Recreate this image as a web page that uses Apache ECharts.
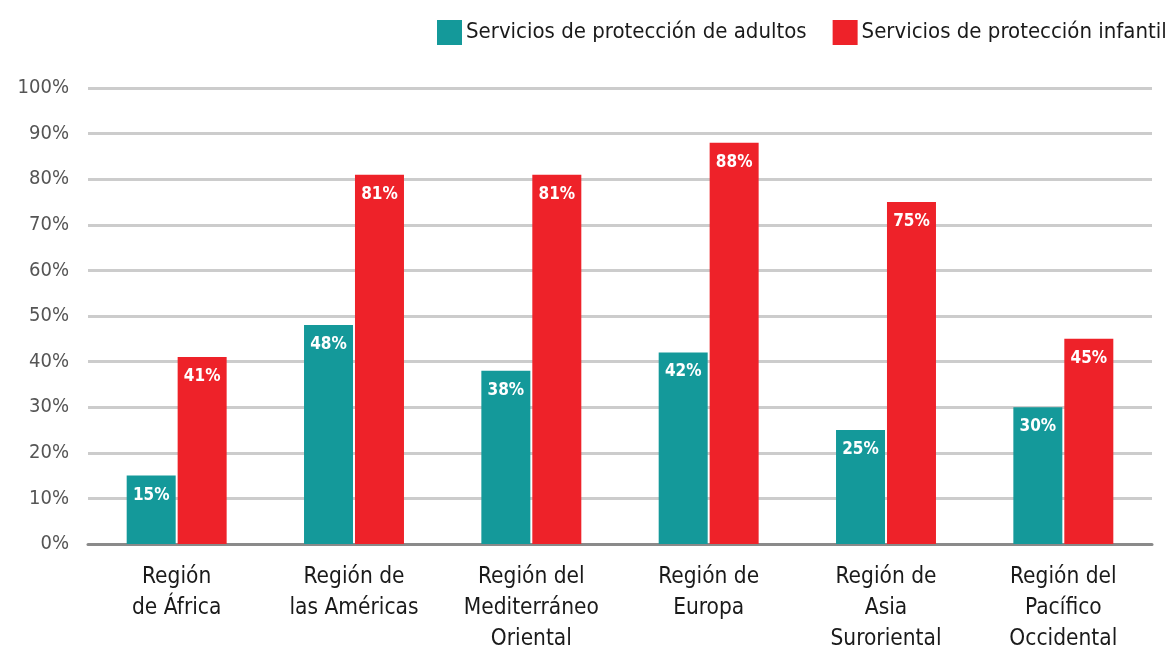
<!DOCTYPE html>
<html><head><meta charset="utf-8">
<script src="https://cdn.jsdelivr.net/npm/echarts@6/dist/echarts.min.js"></script>
<style>html,body{margin:0;padding:0;background:#fff}#c{width:1167px;height:650px}</style>
</head><body><div id="c"></div>
<script>
const categories = ["Región\nde África","Región de\nlas Américas","Región del\nMediterráneo\nOriental","Región de\nEuropa","Región de\nAsia\nSuroriental","Región del\nPacífico\nOccidental"];
const seriesNames = ["Servicios de protección de adultos","Servicios de protección infantil"];
const adultos = [15,48,38,42,25,30];
const infantil = [41,81,81,88,75,45];
const FONT = "'Liberation Sans Narrow','DejaVu Sans Condensed','Roboto',sans-serif";
const chart = echarts.init(document.getElementById('c'));
const lbl = {show:true, position:'insideTop', distance:11, color:'#fff', fontFamily:FONT, fontWeight:'bold', fontSize:17, formatter:'{c}%'};
chart.setOption({
  animation:false,
  legend:{left:432, top:15, width:900, orient:'horizontal', itemWidth:25, itemHeight:25, itemGap:26, icon:'rect',
    textStyle:{fontFamily:FONT, fontSize:22, color:'#1a1a1a', padding:[0,0,0,-1]}},
  grid:{left:88, right:15, top:88, bottom:106, containLabel:false, outerBoundsMode:'none'},
  xAxis:{type:'category', data:categories,
    axisLine:{lineStyle:{color:'#8a8a8a', width:3}}, axisTick:{show:false},
    axisLabel:{interval:0, fontFamily:FONT, fontSize:22.5, color:'#1a1a1a', lineHeight:31, margin:18}},
  yAxis:{type:'value', min:0, max:100, interval:10,
    axisLine:{show:false}, axisTick:{show:false},
    splitLine:{lineStyle:{color:'#cccccc', width:3}},
    axisLabel:{formatter:'{value}%', fontFamily:FONT, fontSize:20, color:'#555', margin:19}},
  series:[
    {name:seriesNames[0], type:'bar', data:adultos, barWidth:49, barGap:'4%', itemStyle:{color:'#14999a'}, label:lbl},
    {name:seriesNames[1], type:'bar', data:infantil, barWidth:49, itemStyle:{color:'#ee2229'}, label:lbl}
  ]
});
</script></body></html>
